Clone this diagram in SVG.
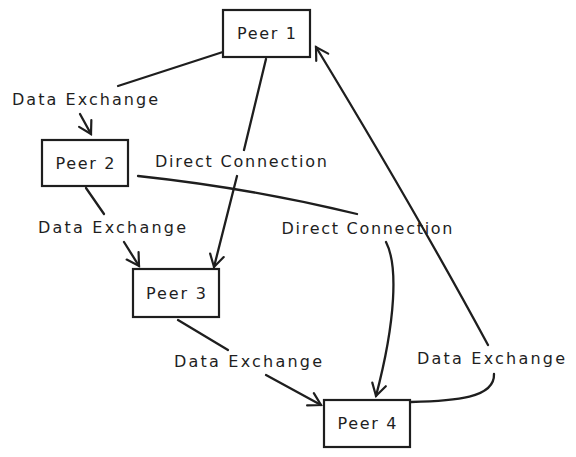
<svg xmlns="http://www.w3.org/2000/svg" width="576" height="457" viewBox="0 0 576 457">
<defs>
<style>
.box{fill:#ffffff;stroke:#1e1e1e;stroke-width:2.2}
.lbl{font-family:"DejaVu Sans","Liberation Sans",sans-serif;font-size:16px;fill:#1e1e1e;text-anchor:middle;dominant-baseline:central}
.edge{fill:none;stroke:#1e1e1e;stroke-width:2.3;stroke-linecap:round}
</style>
<marker id="arr" markerWidth="20" markerHeight="20" refX="0" refY="0" viewBox="-14 -10 16 20" orient="auto" markerUnits="userSpaceOnUse">
<path d="M-12,-7 L0,0 L-12,7" fill="none" stroke="#1e1e1e" stroke-width="2.2" stroke-linecap="round"/>
</marker>
</defs>
<rect width="576" height="457" fill="#ffffff"/>
<g id="connectors">
<g id="e-p1-p2">
<path class="edge" d="M229,50 L118,86"/>
<path class="edge" d="M80,114 L91,134" marker-end="url(#arr)"/>
<text class="lbl" x="85" y="99" textLength="146">Data Exchange</text>
</g>
<g id="e-p1-p3">
<path class="edge" d="M266,59 L244,150"/>
<path class="edge" d="M237,176 L214,267" marker-end="url(#arr)"/>
<text class="lbl" x="241" y="161" textLength="172">Direct Connection</text>
</g>
<g id="e-p2-p4">
<path class="edge" d="M138,176 Q250,188 357,214"/>
<path class="edge" d="M386,242 C398,265 396,320 376,396" marker-end="url(#arr)"/>
<text class="lbl" x="367" y="228" textLength="171">Direct Connection</text>
</g>
<g id="e-p2-p3">
<path class="edge" d="M86,188 L104,214"/>
<path class="edge" d="M124,242 L139,266" marker-end="url(#arr)"/>
<text class="lbl" x="112" y="227" textLength="148">Data Exchange</text>
</g>
<g id="e-p3-p4">
<path class="edge" d="M178,320 L228,350"/>
<path class="edge" d="M266,375 L321,405" marker-end="url(#arr)"/>
<text class="lbl" x="248" y="361" textLength="148">Data Exchange</text>
</g>
<g id="e-p4-p1">
<path class="edge" d="M411,402 C455,401 495,398 494,374"/>
<path class="edge" d="M488,345 Q415,210 316,47" marker-end="url(#arr)"/>
<text class="lbl" x="491" y="358" textLength="148">Data Exchange</text>
</g>
</g>
<g id="peer1">
<rect class="box" x="223" y="10" width="87" height="47"/>
<text class="lbl" x="266.5" y="33.5" textLength="59">Peer 1</text>
</g>
<g id="peer2">
<rect class="box" x="42" y="140" width="86" height="46"/>
<text class="lbl" x="85" y="163" textLength="59">Peer 2</text>
</g>
<g id="peer3">
<rect class="box" x="133" y="269" width="86" height="48"/>
<text class="lbl" x="176" y="293" textLength="60">Peer 3</text>
</g>
<g id="peer4">
<rect class="box" x="324" y="400" width="86" height="47"/>
<text class="lbl" x="367" y="423.5" textLength="59">Peer 4</text>
</g>
</svg>
